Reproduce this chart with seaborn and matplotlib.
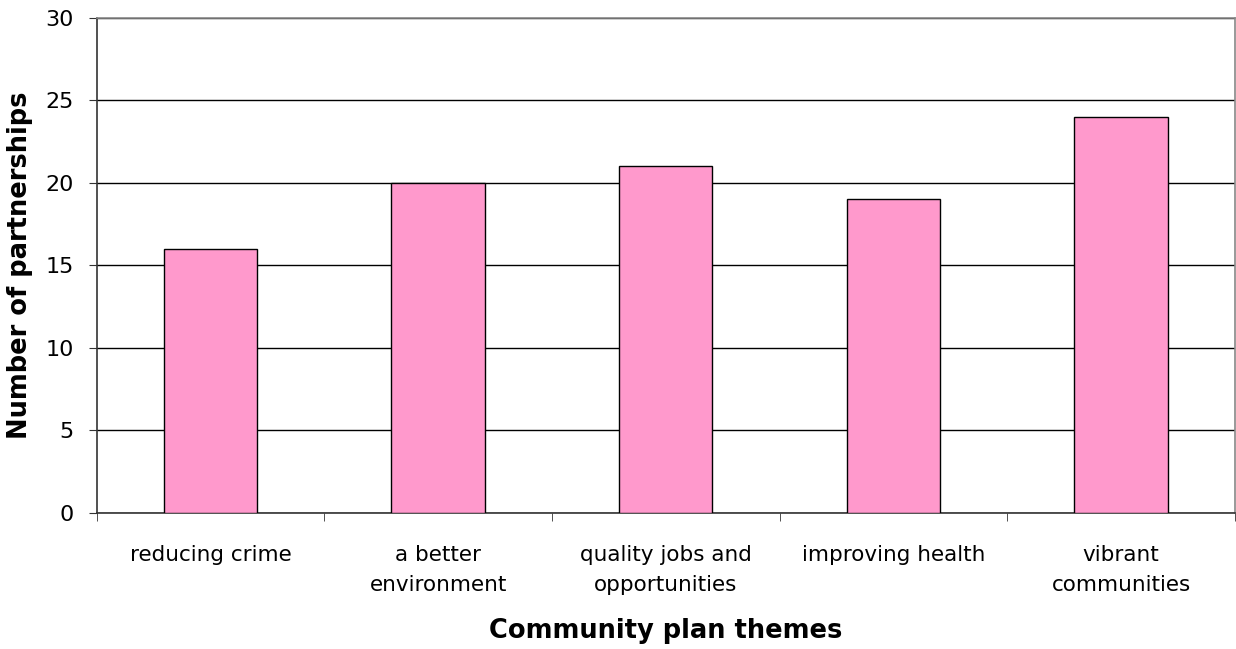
import matplotlib
matplotlib.use("Agg")
import matplotlib.pyplot as plt
import seaborn as sns
import numpy as np

# Data
themes = ["reducing crime", "a better\nenvironment", "quality jobs and\nopportunities",
          "improving health", "vibrant\ncommunities"]
partnerships = [16, 20, 21, 19, 24]

sns.set_style("white")
plt.rcParams['font.family'] = ['DejaVu Sans']
plt.rcParams['text.color'] = 'black'
plt.rcParams['axes.labelcolor'] = 'black'
plt.rcParams['xtick.color'] = 'black'
plt.rcParams['ytick.color'] = 'black'

fig = plt.figure(figsize=(12.36, 6.49), dpi=100)
ax = fig.add_axes([0.0781, 0.2096, 0.9211, 0.7627])

sns.barplot(x=themes, y=partnerships, color="#FF99CC", edgecolor="black",
            linewidth=1, width=0.41, saturation=1, ax=ax, zorder=3)

ax.set_ylim(0, 30)
ax.set_xlim(-0.5, len(themes) - 0.5)
ax.set_yticks(range(0, 31, 5))
ax.yaxis.grid(True, color="black", linewidth=1, zorder=0)
ax.set_axisbelow(True)

# tick marks between categories
ax.set_xticks(np.arange(-0.5, len(themes), 1), minor=True)
ax.tick_params(axis="x", which="major", length=0, labelsize=15.5, pad=23)
ax.tick_params(axis="x", which="minor", length=6, direction="out", color="#333333", bottom=True)
ax.tick_params(axis="y", length=6, direction="out", color="#333333", labelsize=16, left=True, pad=10.5)
for lbl in ax.get_xticklabels():
    lbl.set_linespacing(1.62)

for s in ["left", "bottom"]:
    ax.spines[s].set_color("#333333")
    ax.spines[s].set_linewidth(1.2)
for s in ["top", "right"]:
    ax.spines[s].set_color("#888888")
    ax.spines[s].set_linewidth(1.2)

ax.set_xlabel("Community plan themes", fontsize=18.5, fontweight="bold")
ax.set_ylabel("Number of partnerships", fontsize=18.5, fontweight="bold")
ax.xaxis.set_label_coords(0.5, -0.213)
ax.yaxis.set_label_coords(-0.0561, 0.5)

plt.savefig("out.png", dpi=100)
